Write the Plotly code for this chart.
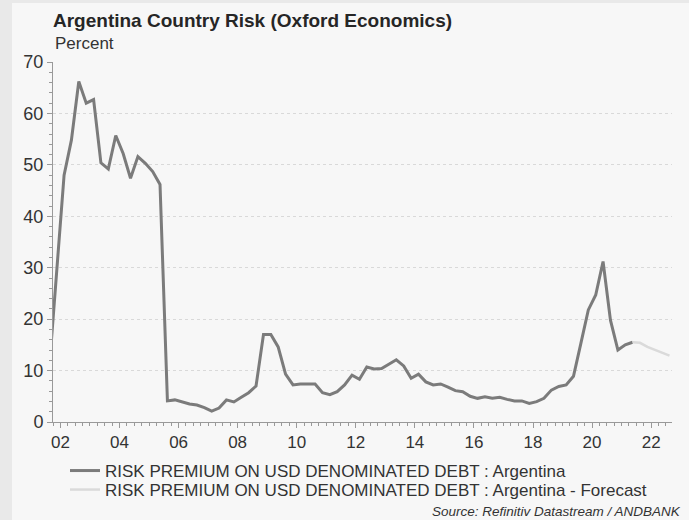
import pandas as pd
import plotly.graph_objects as go

# ---- data (quarterly) ----
actual_quarters = [
    "2001Q3", "2001Q4",
    "2002Q1", "2002Q2", "2002Q3", "2002Q4",
    "2003Q1", "2003Q2", "2003Q3", "2003Q4",
    "2004Q1", "2004Q2", "2004Q3", "2004Q4",
    "2005Q1", "2005Q2", "2005Q3", "2005Q4",
    "2006Q1", "2006Q2", "2006Q3", "2006Q4",
    "2007Q1", "2007Q2", "2007Q3", "2007Q4",
    "2008Q1", "2008Q2", "2008Q3", "2008Q4",
    "2009Q1", "2009Q2", "2009Q3", "2009Q4",
    "2010Q1", "2010Q2", "2010Q3", "2010Q4",
    "2011Q1", "2011Q2", "2011Q3", "2011Q4",
    "2012Q1", "2012Q2", "2012Q3", "2012Q4",
    "2013Q1", "2013Q2", "2013Q3", "2013Q4",
    "2014Q1", "2014Q2", "2014Q3", "2014Q4",
    "2015Q1", "2015Q2", "2015Q3", "2015Q4",
    "2016Q1", "2016Q2", "2016Q3", "2016Q4",
    "2017Q1", "2017Q2", "2017Q3", "2017Q4",
    "2018Q1", "2018Q2", "2018Q3", "2018Q4",
    "2019Q1", "2019Q2", "2019Q3", "2019Q4",
    "2020Q1", "2020Q2", "2020Q3", "2020Q4",
    "2021Q1", "2021Q2",
]
actual_values = [
    10.5, 29.0,
    48.0, 54.8, 66.2, 62.0,
    62.7, 50.4, 49.2, 55.7,
    52.2, 47.4, 51.6, 50.3,
    48.7, 46.2, 4.1, 4.3,
    3.9, 3.5, 3.3, 2.8,
    2.1, 2.7, 4.3, 3.9,
    4.8, 5.7, 7.0, 17.0,
    17.0, 14.6, 9.3, 7.2,
    7.4, 7.4, 7.4, 5.7,
    5.3, 5.9, 7.2, 9.1,
    8.3, 10.7, 10.3, 10.4,
    11.3, 12.1, 10.9, 8.5,
    9.3, 7.8, 7.2, 7.4,
    6.8, 6.1, 5.9, 5.0,
    4.6, 4.9, 4.6, 4.8,
    4.4, 4.1, 4.1, 3.6,
    3.95, 4.6, 6.2, 6.9,
    7.2, 8.9, 15.3, 21.8,
    24.7, 31.2, 19.8, 14.0,
    15.0, 15.5,
]

forecast_quarters = ["2021Q2", "2021Q3", "2021Q4", "2022Q1", "2022Q2", "2022Q3"]
forecast_values = [15.5, 15.4, 14.6, 14.0, 13.4, 12.9]

series_names = [
    "RISK PREMIUM ON USD DENOMINATED DEBT : Argentina",
    "RISK PREMIUM ON USD DENOMINATED DEBT : Argentina - Forecast",
]
title_text = "Argentina Country Risk (Oxford Economics)"
unit_text = "Percent"
source_text = "Source: Refinitiv Datastream / ANDBANK"


def mid_quarter(q):
    p = pd.Period(q, freq="Q")
    return p.start_time + (p.end_time - p.start_time) / 2


x_act = [mid_quarter(q) for q in actual_quarters]
x_fc = [mid_quarter(q) for q in forecast_quarters]

FONT = "Liberation Sans, Arial, sans-serif"
W, H = 689, 520
L, R, T, B = 53, 17, 62, 98
PW, PH = W - L - R, H - T - B


def px_x(px):
    return (px - L) / PW


def px_y(py):
    return (H - B - py) / PH


fig = go.Figure()
fig.add_trace(go.Scatter(
    x=x_act, y=actual_values, mode="lines", name=series_names[0],
    line=dict(color="#7b7b7b", width=3), legend="legend",
))
fig.add_trace(go.Scatter(
    x=x_fc, y=forecast_values, mode="lines", name=series_names[1],
    line=dict(color="#dadada", width=2.5), legend="legend2",
))

legend_common = dict(
    xanchor="left", yanchor="middle",
    font=dict(size=17, color="#333333", family=FONT),
    bgcolor="rgba(0,0,0,0)", itemwidth=30,
)

fig.update_layout(
    width=W, height=H,
    margin=dict(l=L, r=R, t=T, b=B),
    paper_bgcolor="#f7f7f7",
    plot_bgcolor="#f7f7f7",
    font=dict(family=FONT, color="#333333", size=17),
    showlegend=True,
    legend=dict(x=px_x(65), y=px_y(471), **legend_common),
    legend2=dict(x=px_x(65), y=px_y(490), **legend_common),
    title=dict(
        text="<b>" + title_text + "</b>",
        x=0, xref="paper", xanchor="left",
        y=1 - 20 / H, yref="container", yanchor="middle",
        font=dict(family=FONT, size=19, color="#262626"),
    ),
    xaxis=dict(
        type="date",
        range=["2001-10-01", "2022-09-16"],
        tickformat="%y",
        dtick="M24",
        tick0="2002-01-01",
        ticks="outside", ticklen=5, tickcolor="#999999",
        showline=True, linecolor="#999999", linewidth=1,
        showgrid=False, zeroline=False,
        tickfont=dict(size=17, color="#333333"),
        minor=dict(dtick="M3", ticks="outside", ticklen=3,
                   tickcolor="#999999", showgrid=False),
    ),
    yaxis=dict(
        range=[0, 70],
        dtick=10,
        ticks="outside", ticklen=5, tickcolor="#999999",
        showline=True, linecolor="#999999", linewidth=1,
        showgrid=True, gridcolor="#d9d9d9", griddash="dot", gridwidth=1,
        zeroline=False,
        tickfont=dict(size=18, color="#333333"),
        minor=dict(dtick=2, ticks="outside", ticklen=3,
                   tickcolor="#999999", showgrid=False),
    ),
    annotations=[
        dict(text=unit_text, xref="paper", yref="paper",
             x=0, y=px_y(44), xanchor="left", yanchor="middle",
             showarrow=False, font=dict(size=17, color="#333333")),
        dict(text="<i>" + source_text + "</i>", xref="paper", yref="paper",
             x=px_x(683), y=px_y(511), xanchor="right", yanchor="middle",
             showarrow=False, font=dict(size=13.5, color="#333333")),
    ],
    shapes=[
        dict(type="rect", xref="paper", yref="paper", layer="below",
             x0=px_x(0), x1=px_x(12), y0=px_y(H), y1=px_y(0),
             fillcolor="#e9e9e9", line=dict(width=0)),
        dict(type="rect", xref="paper", yref="paper", layer="below",
             x0=px_x(0), x1=px_x(W), y0=px_y(3), y1=px_y(0),
             fillcolor="#e9e9e9", line=dict(width=0)),
    ],
)

fig.write_html(
    "out.html",
    config={"displayModeBar": False},
    post_script="document.body.style.margin='0px';document.body.style.overflow='hidden';",
)
